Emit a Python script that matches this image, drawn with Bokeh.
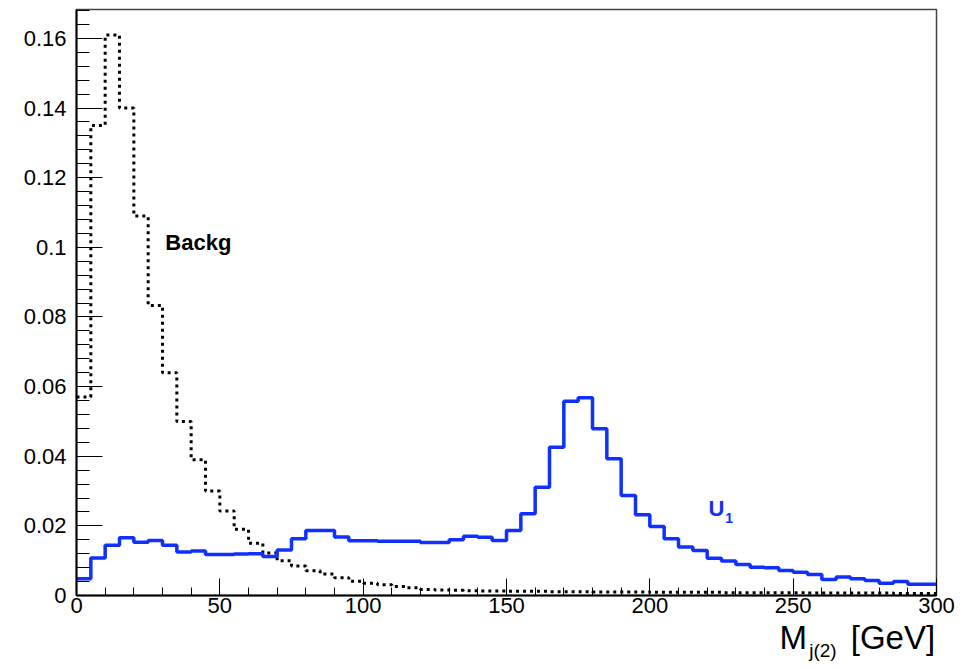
import numpy as np
from bokeh.plotting import figure
from bokeh.models import Range1d, FixedTicker, Label, LinearAxis
from bokeh.embed import file_html
from bokeh.resources import INLINE

# Histogram binning: 60 bins of 5 GeV from 0 to 300 GeV
bin_width = 5
bin_edges = list(range(0, 305, bin_width))

# Background distribution (normalised), one value per bin
backg = [
    0.057, 0.135, 0.161, 0.140, 0.109, 0.0833, 0.0640, 0.0500, 0.0390, 0.0300,
    0.0243, 0.0190, 0.0150, 0.0122, 0.0100, 0.0085, 0.0071, 0.0062, 0.0051, 0.0041,
    0.0035, 0.0031, 0.0026, 0.0022, 0.0017, 0.0016, 0.0015, 0.0014, 0.0013, 0.0013,
    0.0012, 0.0012, 0.0012, 0.0011, 0.0011, 0.0011, 0.0010, 0.0010, 0.0010, 0.0010,
    0.0009, 0.0009, 0.0009, 0.0009, 0.0009, 0.0008, 0.0008, 0.0008, 0.0008, 0.0008,
    0.0008, 0.0007, 0.0007, 0.0007, 0.0007, 0.0007, 0.0007, 0.0006, 0.0006, 0.0006,
]

# Signal U1 distribution (normalised), one value per bin
signal_u1 = [
    0.0048, 0.0108, 0.0144, 0.0166, 0.0153, 0.0158, 0.0144, 0.0125, 0.0128, 0.0118,
    0.0118, 0.0119, 0.0120, 0.0112, 0.0131, 0.0163, 0.0187, 0.0187, 0.0168, 0.0157,
    0.0157, 0.0156, 0.0156, 0.0156, 0.0152, 0.0152, 0.0160, 0.0170, 0.0167, 0.0158,
    0.0187, 0.0235, 0.0311, 0.0426, 0.0558, 0.0568, 0.0479, 0.0393, 0.0287, 0.0232,
    0.0198, 0.0163, 0.0139, 0.0129, 0.0107, 0.0099, 0.0089, 0.0081, 0.0080, 0.0072,
    0.0067, 0.0060, 0.0046, 0.0053, 0.0048, 0.0043, 0.0035, 0.0040, 0.0032, 0.0032,
]

# Axis ticks and their labels
x_ticks = [0, 50, 100, 150, 200, 250, 300]
x_minor = [v for v in range(0, 301, 10)]
y_ticks = [0, 0.02, 0.04, 0.06, 0.08, 0.1, 0.12, 0.14, 0.16]
y_tick_labels = ["0", "0.02", "0.04", "0.06", "0.08", "0.1", "0.12", "0.14", "0.16"]
y_minor = [round(i * 0.004, 3) for i in range(0, 43)]

# X-axis title pieces, anchored (centred) at x positions under the right end of the axis
title_main_pos = [250.0, 284.8]
title_main_text = ["M", "[GeV]"]
title_sub_pos = [260.4]
title_sub_text = ["j(2)"]

FONT = "Liberation Sans"
BLUE = "#1030ff"

p = figure(
    width=970, height=669,
    x_range=Range1d(0, 300), y_range=Range1d(0, 0.1683),
    output_backend="svg", toolbar_location=None,
    min_border_left=76, min_border_right=34, min_border_top=9, min_border_bottom=74,
)
p.background_fill_color = "white"
p.border_fill_color = "white"
p.grid.visible = False
p.outline_line_color = "#444444"
p.outline_line_width = 1.5


def step_points(values):
    # Horizontal step per bin; repeat last value so the final bin reaches 300
    xs = np.array(bin_edges, dtype=float)
    ys = np.array(list(values) + [values[-1]], dtype=float)
    return xs, ys


bx, by = step_points(backg)
p.step(bx, by, mode="after", line_color="black", line_width=3, line_dash="3 4")

sx, sy = step_points(signal_u1)
p.step(sx, sy, mode="after", line_color=BLUE, line_width=3.5)

# Axes styled with inward ticks
xa = p.xaxis[0]
xa.ticker = FixedTicker(ticks=x_ticks, minor_ticks=x_minor)
xa.major_tick_in = 17
xa.major_tick_out = 0
xa.minor_tick_in = 8
xa.minor_tick_out = 0
xa.axis_line_width = 2
xa.axis_line_color = "black"
xa.major_tick_line_color = "black"
xa.minor_tick_line_color = "black"
xa.major_label_text_font = FONT
xa.major_label_text_font_size = "22px"
xa.major_label_text_color = "black"
xa.major_label_standoff = 2

ya = p.yaxis[0]
ya.ticker = FixedTicker(ticks=y_ticks, minor_ticks=y_minor)
ya.major_label_overrides = {t: s for t, s in zip(y_ticks, y_tick_labels)}
ya.major_tick_in = 26
ya.major_tick_out = 0
ya.minor_tick_in = 13
ya.minor_tick_out = 0
ya.axis_line_width = 2
ya.axis_line_color = "black"
ya.major_tick_line_color = "black"
ya.minor_tick_line_color = "black"
ya.major_label_text_font = FONT
ya.major_label_text_font_size = "22px"
ya.major_label_text_color = "black"
ya.major_label_standoff = 10


def title_axis(positions, texts, size, standoff):
    # Bare axis (no line, no ticks) used only to place title text below the x axis
    ax = LinearAxis(
        ticker=FixedTicker(ticks=positions, minor_ticks=[]),
        major_label_overrides={pos: txt for pos, txt in zip(positions, texts)},
        axis_line_color=None, major_tick_line_color=None, minor_tick_line_color=None,
        major_tick_in=0, major_tick_out=0, minor_tick_in=0, minor_tick_out=0,
        major_label_text_font=FONT, major_label_text_font_size=size,
        major_label_text_color="black", major_label_standoff=standoff,
    )
    p.add_layout(ax, "below")
    return ax


title_axis(title_main_pos, title_main_text, "33px", 3)
title_axis(title_sub_pos, title_sub_text, "19px", -19)

# Curve labels
p.add_layout(Label(x=31, y=0.1014, text="Backg", text_font=FONT, text_font_style="bold",
                   text_font_size="22px", text_color="black", text_baseline="middle"))
p.add_layout(Label(x=220.5, y=0.0250, text="U", text_font=FONT, text_font_style="bold",
                   text_font_size="22px", text_color=BLUE, text_baseline="alphabetic"))
p.add_layout(Label(x=226.3, y=0.0223, text="1", text_font=FONT, text_font_style="bold",
                   text_font_size="14px", text_color=BLUE, text_baseline="alphabetic"))

open("out.html", "w").write(file_html(p, INLINE))
